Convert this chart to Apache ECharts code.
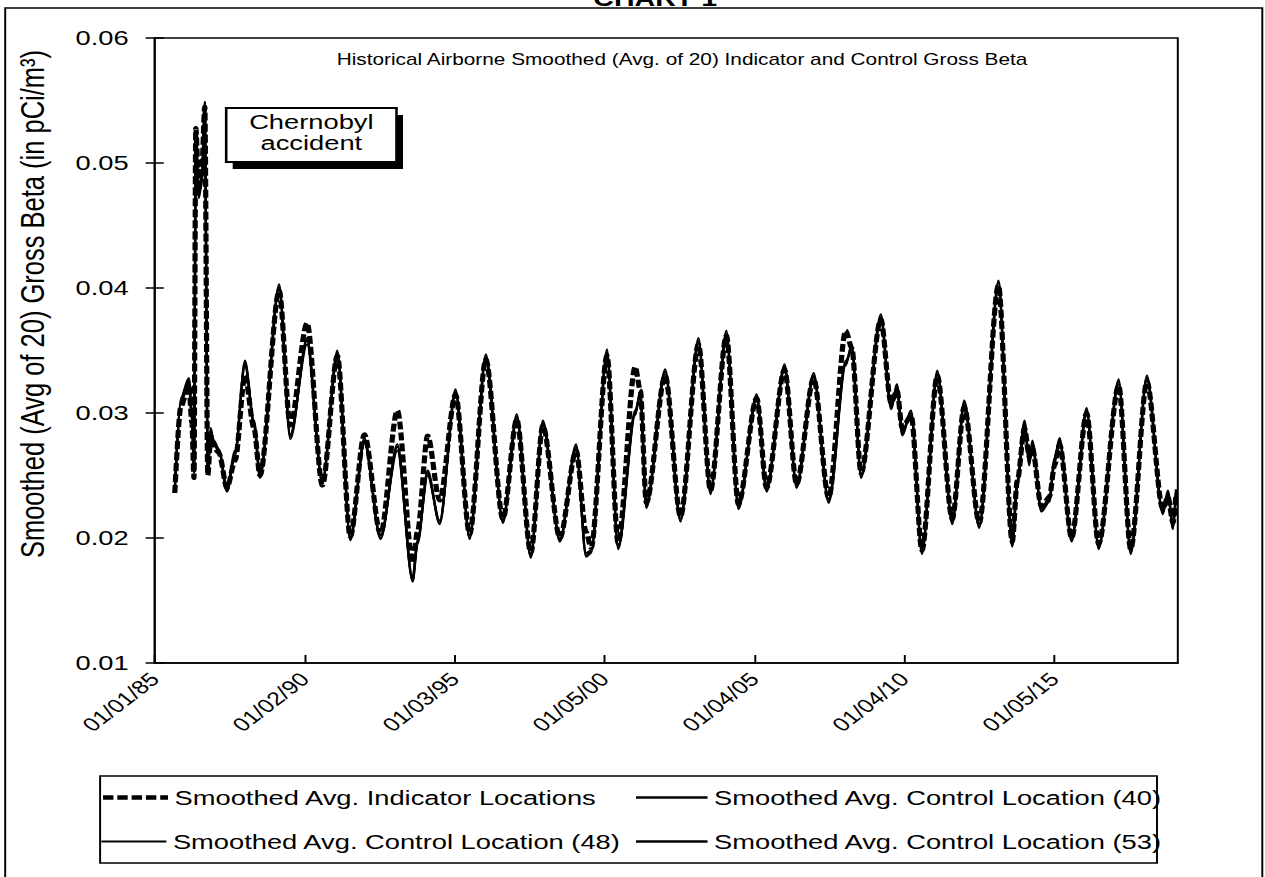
<!DOCTYPE html>
<html>
<head>
<meta charset="utf-8">
<title>Chart 1</title>
<script src="https://cdn.jsdelivr.net/npm/echarts@6.0.0/dist/echarts.min.js"></script>
<style>
  html, body { margin: 0; padding: 0; background: #fff; overflow: hidden; }
  /* the scanned chart is stretched sideways, so draw it narrower and stretch it */
  #container { width: 973px; height: 877px; transform: scaleX(1.3); transform-origin: 0 0; }
</style>
</head>
<body>
<div id="container"></div>
<script>
  // x positions as decimal years
  var dates = [
    1985.67, 1985.87, 1986.14, 1986.24, 1986.31, 1986.37, 1986.47, 1986.57, 1986.67, 1986.77,
    1986.87, 1986.97, 1987.14, 1987.41, 1987.68, 1988.01, 1988.31, 1988.51, 1989.15, 1989.52,
    1990.08, 1990.59, 1991.09, 1991.52, 1991.99, 1992.53, 1993.09, 1993.60, 1993.76, 1994.10,
    1994.50, 1995.03, 1995.50, 1996.04, 1996.61, 1997.07, 1997.54, 1997.94, 1998.51, 1999.05,
    1999.38, 1999.55, 2000.08, 2000.45, 2001.02, 2001.19, 2001.39, 2002.02, 2002.53, 2003.13,
    2003.53, 2004.06, 2004.46, 2005.07, 2005.40, 2006.00, 2006.40, 2006.97, 2007.47, 2008.04,
    2008.24, 2008.55, 2009.21, 2009.55, 2009.75, 2009.92, 2010.22, 2010.58, 2011.09, 2011.59,
    2011.99, 2012.49, 2013.13, 2013.59, 2013.76, 2014.00, 2014.16, 2014.26, 2014.56, 2014.83,
    2015.00, 2015.17, 2015.57, 2016.07, 2016.47, 2017.14, 2017.54, 2018.08, 2018.61, 2018.78,
    2018.95, 2019.05
  ];

  var indicator = [
    0.0236, 0.0305, 0.0322, 0.0292, 0.0248, 0.0528, 0.0478, 0.0495, 0.0545, 0.0250,
    0.0282, 0.0272, 0.0268, 0.0240, 0.0262, 0.0330, 0.0288, 0.0250, 0.0398, 0.0290,
    0.0372, 0.0242, 0.0346, 0.0201, 0.0283, 0.0203, 0.0302, 0.0180, 0.0205, 0.0282,
    0.0230, 0.0315, 0.0203, 0.0343, 0.0215, 0.0295, 0.0188, 0.0290, 0.0200, 0.0270,
    0.0205, 0.0192, 0.0346, 0.0196, 0.0337, 0.0318, 0.0228, 0.0330, 0.0217, 0.0355,
    0.0238, 0.0362, 0.0227, 0.0312, 0.0240, 0.0335, 0.0243, 0.0328, 0.0232, 0.0366,
    0.0352, 0.0252, 0.0375, 0.0308, 0.0318, 0.0288, 0.0298, 0.0190, 0.0330, 0.0215,
    0.0305, 0.0212, 0.0402, 0.0197, 0.0246, 0.0288, 0.0265, 0.0272, 0.0225, 0.0233,
    0.0258, 0.0275, 0.0200, 0.0300, 0.0195, 0.0322, 0.0191, 0.0325, 0.0223, 0.0233,
    0.0212, 0.0235
  ];

  var control40 = [
    0.0238, 0.0310, 0.0326, 0.0297, 0.0255, 0.0526, 0.0475, 0.0490, 0.0549, 0.0255,
    0.0286, 0.0276, 0.0270, 0.0238, 0.0268, 0.0340, 0.0292, 0.0249, 0.0401, 0.0281,
    0.0358, 0.0244, 0.0348, 0.0199, 0.0278, 0.0200, 0.0273, 0.0166, 0.0196, 0.0252,
    0.0212, 0.0317, 0.0200, 0.0345, 0.0213, 0.0297, 0.0185, 0.0292, 0.0198, 0.0273,
    0.0186, 0.0189, 0.0349, 0.0192, 0.0300, 0.0316, 0.0225, 0.0333, 0.0214, 0.0358,
    0.0236, 0.0364, 0.0224, 0.0313, 0.0238, 0.0337, 0.0241, 0.0330, 0.0229, 0.0340,
    0.0353, 0.0249, 0.0377, 0.0305, 0.0321, 0.0284, 0.0300, 0.0188, 0.0332, 0.0212,
    0.0308, 0.0209, 0.0404, 0.0194, 0.0244, 0.0292, 0.0260, 0.0276, 0.0222, 0.0230,
    0.0262, 0.0278, 0.0198, 0.0302, 0.0192, 0.0325, 0.0188, 0.0328, 0.0220, 0.0236,
    0.0208, 0.0237
  ];

  var control48 = [
    0.0240, 0.0308, 0.0324, 0.0295, 0.0258, 0.0518, 0.0480, 0.0488, 0.0540, 0.0258,
    0.0284, 0.0278, 0.0271, 0.0240, 0.0270, 0.0338, 0.0294, 0.0251, 0.0399, 0.0283,
    0.0355, 0.0246, 0.0345, 0.0201, 0.0276, 0.0202, 0.0270, 0.0168, 0.0198, 0.0250,
    0.0214, 0.0315, 0.0202, 0.0342, 0.0215, 0.0295, 0.0187, 0.0290, 0.0200, 0.0271,
    0.0188, 0.0190, 0.0346, 0.0194, 0.0302, 0.0314, 0.0227, 0.0331, 0.0216, 0.0356,
    0.0238, 0.0361, 0.0226, 0.0311, 0.0240, 0.0335, 0.0243, 0.0328, 0.0231, 0.0342,
    0.0350, 0.0251, 0.0374, 0.0307, 0.0319, 0.0286, 0.0298, 0.0190, 0.0330, 0.0214,
    0.0306, 0.0211, 0.0401, 0.0196, 0.0242, 0.0290, 0.0262, 0.0274, 0.0224, 0.0232,
    0.0260, 0.0276, 0.0200, 0.0300, 0.0194, 0.0323, 0.0190, 0.0326, 0.0222, 0.0234,
    0.0210, 0.0235
  ];

  var control53 = [
    0.0237, 0.0312, 0.0328, 0.0299, 0.0252, 0.0510, 0.0472, 0.0485, 0.0535, 0.0252,
    0.0288, 0.0275, 0.0269, 0.0237, 0.0266, 0.0342, 0.0290, 0.0248, 0.0403, 0.0279,
    0.0360, 0.0243, 0.0350, 0.0198, 0.0280, 0.0199, 0.0275, 0.0165, 0.0195, 0.0254,
    0.0211, 0.0319, 0.0199, 0.0347, 0.0212, 0.0299, 0.0184, 0.0294, 0.0197, 0.0275,
    0.0185, 0.0188, 0.0351, 0.0191, 0.0298, 0.0318, 0.0224, 0.0335, 0.0213, 0.0360,
    0.0235, 0.0366, 0.0223, 0.0315, 0.0237, 0.0339, 0.0240, 0.0332, 0.0228, 0.0338,
    0.0355, 0.0248, 0.0379, 0.0303, 0.0323, 0.0282, 0.0302, 0.0187, 0.0334, 0.0211,
    0.0310, 0.0208, 0.0406, 0.0193, 0.0246, 0.0294, 0.0258, 0.0278, 0.0221, 0.0229,
    0.0264, 0.0280, 0.0197, 0.0304, 0.0191, 0.0327, 0.0187, 0.0330, 0.0219, 0.0238,
    0.0207, 0.0239
  ];

  var tickYears = [1985, 1990, 1995, 2000, 2005, 2010, 2015];
  var tickLabels = ['01/01/85', '01/02/90', '01/03/95', '01/05/00', '01/04/05', '01/04/10', '01/05/15'];

  var seriesNames = [
    'Smoothed Avg. Indicator Locations',
    'Smoothed Avg. Control Location (40)',
    'Smoothed Avg. Control Location (48)',
    'Smoothed Avg. Control Location (53)'
  ];

  var font = "'Liberation Sans', Arial, sans-serif";

  function pairs(vals) {
    return dates.map(function (d, i) { return [d, vals[i]]; });
  }

  function lineSeries(name, vals, width, dash) {
    return {
      name: name,
      type: 'line',
      data: pairs(vals),
      symbol: 'none',
      showSymbol: false,
      smooth: 0.3,
      smoothMonotone: 'x',
      itemStyle: {color: '#000'},
      lineStyle: {color: '#000', width: width, type: dash},
      emphasis: {disabled: true}
    };
  }

  function legendAt(name, left, top, iconWidth, lineWidth) {
    return {
      data: [name],
      left: left,
      top: top,
      padding: 0,
      itemWidth: iconWidth,
      itemHeight: 14,
      selectedMode: false,
      itemStyle: {opacity: 0},
      lineStyle: {width: lineWidth},
      textStyle: {fontSize: 21, color: '#000', fontFamily: font}
    };
  }

  var myChart = echarts.init(document.getElementById('container'), null, {renderer: 'svg'});

  myChart.setOption({
    animation: false,
    backgroundColor: '#fff',
    textStyle: {fontFamily: font},
    title: {
      text: 'Historical Airborne Smoothed (Avg. of 20) Indicator and Control Gross Beta',
      left: 259,
      top: 51,
      padding: 0,
      textStyle: {fontSize: 16, fontWeight: 'normal', color: '#000', fontFamily: font}
    },
    grid: {
      left: 119, top: 38, width: 787, height: 625,
      show: true, borderColor: '#000', borderWidth: 1.5
    },
    legend: [
      legendAt(seriesNames[0], 77, 787, 50, 4.5),
      legendAt(seriesNames[1], 488, 787, 55, 2.5),
      legendAt(seriesNames[2], 77, 831, 50, 2),
      legendAt(seriesNames[3], 488, 831, 55, 2.5)
    ],
    xAxis: {
      type: 'value',
      min: 1985,
      max: 2019.11,
      interval: 5,
      axisLine: {show: true, lineStyle: {color: '#000', width: 1.5}},
      axisTick: {show: true, inside: true, length: 8, lineStyle: {color: '#000', width: 1.5}},
      splitLine: {show: false},
      axisLabel: {
        rotate: 45,
        margin: 13,
        fontSize: 19,
        color: '#000',
        showMaxLabel: false,
        formatter: function (v) {
          for (var i = 0; i < tickYears.length; i++) {
            if (Math.abs(v - tickYears[i]) < 0.01) return tickLabels[i];
          }
          return '';
        }
      }
    },
    yAxis: [
      {
        type: 'value',
        min: 0.01,
        max: 0.06,
        interval: 0.01,
        axisLine: {show: true, lineStyle: {color: '#000', width: 1.5}},
        axisTick: {show: true, length: 7, lineStyle: {color: '#000', width: 1.5}},
        splitLine: {show: false},
        axisLabel: {
          margin: 20,
          fontSize: 21,
          color: '#000',
          formatter: function (v) { return v.toFixed(2); }
        }
      },
      {
        // second copy only for the inside half of the crossing ticks
        type: 'value',
        position: 'left',
        min: 0.01,
        max: 0.06,
        interval: 0.01,
        axisLine: {show: false},
        axisTick: {show: true, inside: true, length: 7, lineStyle: {color: '#000', width: 1.5}},
        axisLabel: {show: false},
        splitLine: {show: false}
      }
    ],
    series: [
      lineSeries(seriesNames[0], indicator, 4, [8, 3]),
      lineSeries(seriesNames[1], control40, 1.8, 'solid'),
      lineSeries(seriesNames[2], control48, 1.8, 'solid'),
      lineSeries(seriesNames[3], control53, 1.8, 'solid')
    ],
    graphic: [
      // outer frame of the page
      {type: 'rect', z: 0, shape: {x: 4, y: 8, width: 967, height: 900},
        style: {fill: 'none', stroke: '#000', lineWidth: 1.5}},
      {type: 'text', x: 504, y: -13, z: 10,
        style: {text: 'CHART 1', fontSize: 22, fontWeight: 'bold', fill: '#000', textAlign: 'center', fontFamily: font}},
      // y axis title
      {type: 'text', x: 25, y: 304, rotation: Math.PI / 2, z: 10,
        style: {text: 'Smoothed (Avg of 20) Gross Beta (in pCi/m³)', fontSize: 25.5, fill: '#000',
          textAlign: 'center', textVerticalAlign: 'middle', fontFamily: font}},
      // Chernobyl note with its drop shadow
      {type: 'rect', z: 20, shape: {x: 179, y: 115, width: 131, height: 54}, style: {fill: '#000'}},
      {type: 'rect', z: 21, shape: {x: 174, y: 108, width: 131, height: 54},
        style: {fill: '#fff', stroke: '#000', lineWidth: 2}},
      {type: 'text', z: 22, x: 239.5, y: 111,
        style: {text: 'Chernobyl\naccident', fontSize: 21, lineHeight: 21, fill: '#000',
          textAlign: 'center', fontFamily: font}},
      // legend frame
      {type: 'rect', z: 0, shape: {x: 77, y: 776, width: 813, height: 87},
        style: {fill: 'none', stroke: '#000', lineWidth: 1.5}}
    ]
  });
</script>
</body>
</html>
